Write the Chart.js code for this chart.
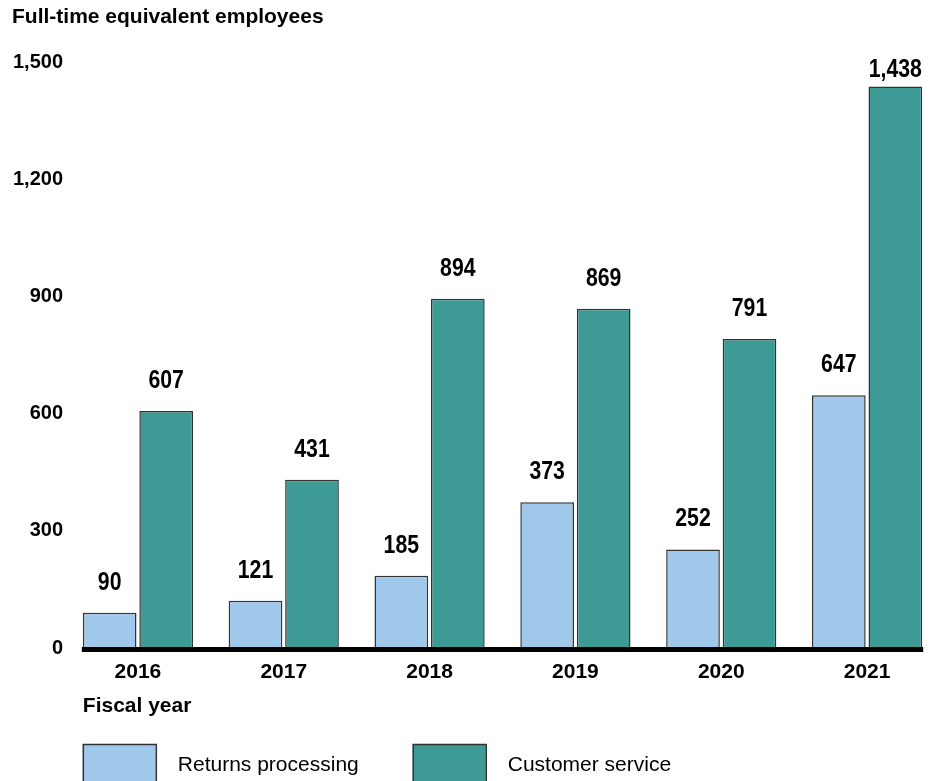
<!DOCTYPE html>
<html>
<head>
<meta charset="utf-8">
<script src="https://cdn.jsdelivr.net/npm/chart.js@4"></script>
<style>
  html, body { margin: 0; padding: 0; background: #fff; overflow: hidden; }
  #wrap { width: 941px; height: 781px; }
</style>
</head>
<body>
<div id="wrap"><canvas id="c" width="941" height="781"></canvas></div>
<script>
const years = ['2016', '2017', '2018', '2019', '2020', '2021'];
const returnsProcessing = [90, 121, 185, 373, 252, 647];
const customerService = [607, 431, 894, 869, 791, 1438];
const yTicks = [0, 300, 600, 900, 1200, 1500];
const yAxisTitle = 'Full-time equivalent employees';
const xAxisTitle = 'Fiscal year';
const seriesNames = ['Returns processing', 'Customer service'];

const BOLD = '"Liberation Sans", Arial, sans-serif';

const extras = {
  id: 'extras',
  afterDatasetsDraw(chart) {
    const ctx = chart.ctx;
    const area = chart.chartArea;
    const yScale = chart.scales.y;
    const m0 = chart.getDatasetMeta(0).data;
    const m1 = chart.getDatasetMeta(1).data;
    const first = m0[0], last = m1[m1.length - 1];
    const left = first.x - first.width / 2;
    const right = last.x + last.width / 2;
    const y0 = yScale.getPixelForValue(0);
    ctx.save();
    // baseline
    ctx.strokeStyle = '#000';
    ctx.lineWidth = 5;
    ctx.beginPath();
    ctx.moveTo(left - 1, y0 + 1.5);
    ctx.lineTo(right + 1, y0 + 1.5);
    ctx.stroke();
    // value labels (condensed bold)
    ctx.fillStyle = '#000';
    ctx.font = 'bold 25px ' + BOLD;
    ctx.textAlign = 'center';
    ctx.textBaseline = 'middle';
    const sx = 0.85;
    chart.data.datasets.forEach((ds, di) => {
      chart.getDatasetMeta(di).data.forEach((bar, i) => {
        const v = ds.data[i];
        const ty = Math.max(bar.y - 30, area.top + 8);
        ctx.save();
        ctx.translate(bar.x, ty);
        ctx.scale(sx, 1);
        ctx.fillText(v.toLocaleString('en-US'), 0, 0);
        ctx.restore();
      });
    });
    // x axis title
    ctx.font = 'bold 21px ' + BOLD;
    ctx.textAlign = 'left';
    ctx.fillText(xAxisTitle, left, 706);
    // legend
    let x = left;
    const boxW = 73, boxH = 40, boxTop = 744;
    ctx.font = '21px ' + BOLD;
    chart.data.datasets.forEach((ds) => {
      ctx.fillStyle = ds.backgroundColor;
      ctx.fillRect(x, boxTop, boxW, boxH);
      ctx.strokeStyle = '#333';
      ctx.lineWidth = 1.5;
      ctx.strokeRect(x + 0.5, boxTop + 0.5, boxW, boxH);
      ctx.fillStyle = '#000';
      ctx.textAlign = 'left';
      ctx.textBaseline = 'middle';
      const tx = x + boxW + 22;
      ctx.fillText(ds.label, tx, 765);
      x = tx + ctx.measureText(ds.label).width + 54;
    });
    ctx.restore();
  }
};

new Chart(document.getElementById('c'), {
  type: 'bar',
  data: {
    labels: years,
    datasets: [
      { label: seriesNames[0], data: returnsProcessing, backgroundColor: '#A0C8EA', borderColor: '#333', borderWidth: 1.5 },
      { label: seriesNames[1], data: customerService, backgroundColor: '#3E9A94', borderColor: '#333', borderWidth: 1.5 }
    ]
  },
  options: {
    responsive: false,
    animation: false,
    devicePixelRatio: 1,
    categoryPercentage: 0.775,
    barPercentage: 0.95,
    layout: { padding: { left: 12, right: 1, top: 3, bottom: 0 } },
    plugins: {
      legend: { display: false },
      tooltip: { enabled: false },
      title: {
        display: true,
        text: yAxisTitle,
        align: 'start',
        color: '#000',
        font: { family: BOLD, size: 21, weight: 'bold' },
        padding: { top: 2, bottom: 32 }
      }
    },
    scales: {
      x: {
        grid: { display: false, drawTicks: false },
        border: { display: false },
        ticks: { color: '#000', padding: 12, font: { family: BOLD, size: 21, weight: 'bold' } },
        afterFit(s) { s.height = 133; }
      },
      y: {
        min: 0,
        max: 1500,
        afterBuildTicks(s) { s.ticks = yTicks.map(v => ({ value: v })); },
        grid: { display: false, drawTicks: false },
        border: { display: false },
        ticks: {
          color: '#000',
          padding: 2,
          font: { family: BOLD, size: 20, weight: 'bold' },
          callback: v => Number(v).toLocaleString('en-US')
        },
        afterFit(s) { s.width = 53; }
      }
    }
  },
  plugins: [extras]
});
</script>
</body>
</html>
